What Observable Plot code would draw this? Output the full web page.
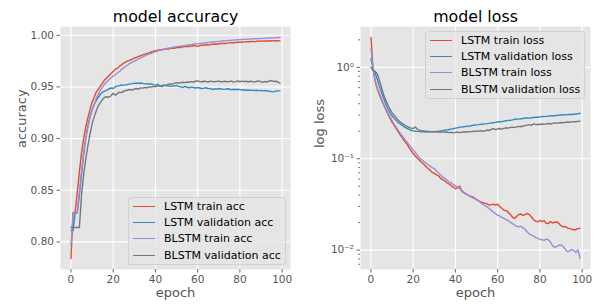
<!DOCTYPE html>
<html><head><meta charset="utf-8">
<script src="https://cdn.jsdelivr.net/npm/d3@7"></script>
<script src="https://cdn.jsdelivr.net/npm/@observablehq/plot@0.6"></script>
<style>
body{margin:0;background:#fff;font-family:"DejaVu Sans",sans-serif;}
#wrap{display:flex;width:600px;height:305px;}
.panel{position:relative;width:300px;height:305px;}
.panel svg{display:block;}
.legend{position:absolute;background:rgba(229,229,229,0.8);border:1px solid rgba(204,204,204,0.8);border-radius:3px;font-size:11px;color:#000;box-sizing:border-box;padding-top:0.5px;}
.legend .row{display:flex;align-items:center;height:16.2px;white-space:nowrap;}
.legend .sw{width:22px;height:0;border-top:1.5px solid;margin-left:4px;margin-right:9px;flex:none;}
</style></head>
<body><div id="wrap"><div class="panel" id="acc"></div><div class="panel" id="loss"></div></div>
<script>
// ---------- data ----------
const epochs = d3.range(100);
const xTicks = [0, 20, 40, 60, 80, 100];
const accTicks = [0.80, 0.85, 0.90, 0.95, 1.00];
const lossTicks = [0.01, 0.1, 1];

const accNames = ["LSTM train acc", "LSTM validation acc", "BLSTM train acc", "BLSTM validation acc"];
const lossNames = ["LSTM train loss", "LSTM validation loss", "BLSTM train loss", "BLSTM validation loss"];
const palette = ["#E24A33", "#348ABD", "#988ED5", "#777777"];

const lstmTrainAcc = [
0.784,0.828,0.829,0.848,0.868,0.886,0.900,0.911,0.920,0.928,
0.935,0.940,0.945,0.948,0.951,0.954,0.957,0.959,0.961,0.963,
0.965,0.967,0.968,0.970,0.9715,0.973,0.9742,0.9752,0.976,0.9768,
0.978,0.9785,0.9795,0.9802,0.981,0.9818,0.9825,0.983,0.9838,0.9845,
0.985,0.9855,0.986,0.9858,0.9865,0.9868,0.9866,0.9872,0.9876,0.9874,
0.988,0.9884,0.9882,0.9888,0.989,0.9893,0.9891,0.9896,0.9899,0.9897,
0.9893,0.990,0.9903,0.9905,0.9908,0.9906,0.991,0.9913,0.9915,0.9913,
0.9918,0.992,0.9922,0.992,0.9924,0.9926,0.9928,0.9927,0.993,0.9932,
0.9934,0.9933,0.9936,0.9938,0.9937,0.994,0.9941,0.9939,0.9942,0.9943,
0.9944,0.9943,0.9945,0.9946,0.9945,0.9947,0.9946,0.9948,0.9947,0.9946];
const lstmValAcc = [
0.811,0.811,0.828,0.828,0.845,0.865,0.885,0.900,0.912,0.921,
0.928,0.933,0.937,0.940,0.943,0.945,0.946,0.947,0.948,0.949,
0.9485,0.950,0.951,0.951,0.952,0.9515,0.952,0.9525,0.953,0.9532,
0.9535,0.9537,0.9535,0.9538,0.9535,0.953,0.9532,0.9528,0.953,0.9522,
0.9518,0.9525,0.9512,0.9502,0.9515,0.951,0.9512,0.9505,0.951,0.9508,
0.9515,0.9505,0.950,0.9495,0.9505,0.9497,0.9492,0.9498,0.9495,0.949,
0.9494,0.949,0.9485,0.9488,0.9492,0.9484,0.9486,0.9475,0.9482,0.9478,
0.9485,0.948,0.9476,0.9479,0.9483,0.948,0.9472,0.9478,0.9475,0.9477,
0.9474,0.947,0.9473,0.9468,0.947,0.9467,0.9469,0.9465,0.9468,0.9464,
0.9466,0.9462,0.9465,0.946,0.9458,0.9455,0.9452,0.946,0.9462,0.9462];
const blstmTrainAcc = [
0.797,0.828,0.828,0.829,0.849,0.869,0.886,0.900,0.911,0.920,
0.927,0.933,0.939,0.943,0.947,0.950,0.953,0.955,0.957,0.959,
0.9605,0.962,0.9635,0.965,0.967,0.9685,0.970,0.9715,0.9728,0.974,
0.975,0.976,0.9772,0.9782,0.979,0.980,0.981,0.9818,0.9826,0.9834,
0.984,0.9848,0.9855,0.986,0.9866,0.987,0.9875,0.9878,0.9882,0.9886,
0.989,0.9893,0.9896,0.990,0.9902,0.9905,0.9908,0.991,0.9913,0.9915,
0.9917,0.992,0.9922,0.9925,0.9927,0.993,0.9932,0.9935,0.9937,0.9939,
0.9941,0.9943,0.9945,0.9946,0.9948,0.995,0.9952,0.9953,0.9955,0.9956,
0.9958,0.9959,0.996,0.9961,0.9963,0.9964,0.9965,0.9966,0.9967,0.9968,
0.9969,0.997,0.9971,0.9972,0.9973,0.9974,0.9975,0.9976,0.9977,0.9978];
const blstmValAcc = [
0.814,0.814,0.814,0.814,0.814,0.845,0.865,0.880,0.893,0.904,
0.914,0.921,0.927,0.932,0.935,0.938,0.940,0.9405,0.940,0.9415,
0.944,0.942,0.9435,0.945,0.9445,0.946,0.9465,0.947,0.9475,0.947,
0.948,0.9485,0.948,0.949,0.9488,0.9495,0.9492,0.950,0.9498,0.9505,
0.9502,0.951,0.9508,0.9512,0.952,0.9515,0.9525,0.953,0.9528,0.9535,
0.9542,0.9538,0.954,0.9545,0.9542,0.9548,0.9545,0.9552,0.9548,0.9555,
0.9558,0.9553,0.955,0.9555,0.9552,0.9548,0.9556,0.9552,0.955,0.9554,
0.9556,0.955,0.9552,0.9555,0.9549,0.9553,0.9556,0.9547,0.9552,0.9558,
0.955,0.9556,0.9552,0.9555,0.9548,0.9556,0.955,0.9547,0.9555,0.9558,
0.955,0.9545,0.9553,0.9548,0.9558,0.9562,0.9553,0.9555,0.9548,0.9535];

const lstmTrainLoss = [
2.12,0.95,0.70,0.58,0.50,0.44,0.39,0.345,0.31,0.28,
0.25,0.232,0.212,0.195,0.18,0.167,0.155,0.145,0.133,0.123,
0.114,0.107,0.101,0.096,0.091,0.087,0.082,0.078,0.075,0.071,
0.069,0.067,0.065,0.061,0.059,0.057,0.0545,0.053,0.0505,0.049,
0.047,0.048,0.050,0.044,0.0425,0.041,0.040,0.039,0.0385,0.037,
0.036,0.0345,0.0337,0.033,0.0325,0.032,0.031,0.0315,0.0318,0.031,
0.0318,0.030,0.0285,0.0274,0.027,0.026,0.0245,0.023,0.0222,0.0235,
0.0245,0.0248,0.024,0.0245,0.0252,0.0245,0.023,0.0215,0.0208,0.0204,
0.0212,0.0205,0.021,0.0196,0.0195,0.0205,0.0198,0.0202,0.0204,0.0195,
0.0185,0.018,0.0182,0.0175,0.0172,0.017,0.0166,0.0168,0.0172,0.0173];
const lstmValLoss = [
1.25,0.95,0.86,0.74,0.62,0.53,0.46,0.40,0.355,0.32,
0.295,0.277,0.262,0.248,0.238,0.23,0.222,0.215,0.21,0.205,
0.202,0.20,0.199,0.198,0.197,0.197,0.196,0.197,0.197,0.198,
0.198,0.199,0.20,0.202,0.203,0.205,0.207,0.209,0.211,0.213,
0.216,0.218,0.222,0.222,0.224,0.226,0.227,0.228,0.232,0.234,
0.235,0.236,0.238,0.24,0.241,0.242,0.245,0.246,0.248,0.25,
0.252,0.254,0.255,0.258,0.26,0.263,0.264,0.266,0.27,0.272,
0.271,0.274,0.276,0.279,0.28,0.278,0.281,0.283,0.285,0.284,
0.287,0.29,0.289,0.291,0.293,0.294,0.296,0.295,0.298,0.299,
0.301,0.303,0.302,0.304,0.306,0.305,0.307,0.309,0.311,0.315];
const blstmTrainLoss = [
1.6,0.95,0.72,0.6,0.52,0.455,0.40,0.355,0.32,0.29,
0.262,0.24,0.22,0.203,0.188,0.175,0.163,0.153,0.142,0.133,
0.125,0.117,0.109,0.102,0.098,0.093,0.09,0.086,0.083,0.08,
0.078,0.074,0.07,0.066,0.063,0.061,0.058,0.056,0.054,0.052,
0.0505,0.049,0.047,0.045,0.043,0.0415,0.0399,0.0385,0.0375,0.0365,
0.0355,0.0345,0.033,0.0318,0.0305,0.0297,0.0285,0.0272,0.026,0.025,
0.0241,0.0235,0.0228,0.0222,0.0215,0.021,0.0202,0.0195,0.0188,0.0182,
0.018,0.0182,0.0175,0.0168,0.0158,0.015,0.0146,0.0142,0.0138,0.0134,
0.0131,0.013,0.0128,0.0132,0.013,0.0122,0.0112,0.0107,0.011,0.0113,
0.0114,0.011,0.0102,0.0096,0.0098,0.0101,0.01,0.0094,0.0101,0.0081];
const blstmValLoss = [
1.0,0.93,0.9,0.85,0.72,0.6,0.5,0.44,0.39,0.35,
0.32,0.3,0.28,0.263,0.25,0.242,0.234,0.226,0.22,0.216,
0.214,0.222,0.21,0.206,0.203,0.201,0.2,0.199,0.198,0.197,
0.198,0.196,0.197,0.195,0.198,0.194,0.196,0.193,0.195,0.192,
0.194,0.196,0.193,0.195,0.197,0.196,0.198,0.197,0.199,0.2,
0.199,0.201,0.203,0.2,0.202,0.206,0.204,0.21,0.213,0.208,
0.212,0.214,0.211,0.215,0.218,0.216,0.22,0.222,0.219,0.223,
0.226,0.224,0.228,0.23,0.233,0.236,0.232,0.241,0.236,0.238,
0.237,0.24,0.238,0.241,0.243,0.24,0.244,0.246,0.245,0.247,
0.249,0.248,0.25,0.252,0.251,0.253,0.255,0.254,0.256,0.258];

// ---------- build ----------
const accSeries = [lstmTrainAcc, lstmValAcc, blstmTrainAcc, blstmValAcc];
const lossSeries = [lstmTrainLoss, lstmValLoss, blstmTrainLoss, blstmValLoss];
const toRows = (arr) => arr.map((v, i) => ({epoch: epochs[i], value: v}));

const pad = ([a, b], f = 0.05) => { const d = (b - a) * f; return [a - d, b + d]; };
const xDomain = pad(d3.extent(epochs));
const accDomain = pad(d3.extent(accSeries.flat()));
const lg = pad(d3.extent(lossSeries.flat(), v => Math.log10(v)));
const lossDomain = [10 ** lg[0], 10 ** lg[1]];

const supMap = {"-": "\u207B", "0": "\u2070", "1": "\u00B9", "2": "\u00B2", "3": "\u00B3"};
const sup = (d) => "10" + String(Math.round(Math.log10(d))).split("").map(c => supMap[c]).join("");

const minorTicks = [];
for (let k = -3; k <= 0; k++) for (let m = 2; m <= 9; m++) {
  const v = m * 10 ** k;
  if (v >= lossDomain[0] && v <= lossDomain[1]) minorTicks.push(v);
}

const common = {
  width: 300, height: 305,
  marginLeft: 60, marginRight: 10, marginTop: 26, marginBottom: 36,
  style: {fontFamily: '"DejaVu Sans", sans-serif', fontSize: "10.5px", color: "#555", background: "transparent", overflow: "visible"}
};
const axisOpts = {tickSize: 3.5, tickPadding: 3, color: "#555", strokeWidth: 0.9, label: null};

function panel(title, ylabel, series, names, yScale, yTickMarks, yLabelDx) {
  return Plot.plot({
    ...common,
    x: {domain: xDomain, label: null},
    y: {...yScale, label: null},
    marks: [
      Plot.frame({fill: "#E5E5E5", stroke: "none"}),
      Plot.gridX(xTicks, {stroke: "#fff", strokeOpacity: 1, strokeWidth: 1.1}),
      Plot.gridY(yScale.gridTicks, {stroke: "#fff", strokeOpacity: 1, strokeWidth: 1.1}),
      Plot.axisX(xTicks, axisOpts),
      ...yTickMarks,
      ...series.map((s, i) => Plot.line(toRows(s), {x: "epoch", y: "value", stroke: palette[i], strokeWidth: 1.4})),
      Plot.text([title], {frameAnchor: "top", lineAnchor: "bottom", dy: -5, fontSize: 15.8, fill: "#000"}),
      Plot.text(["epoch"], {frameAnchor: "bottom", lineAnchor: "bottom", dy: 27, fontSize: 13, fill: "#555"}),
      Plot.text([ylabel], {frameAnchor: "left", rotate: -90, lineAnchor: "bottom", dx: yLabelDx, fontSize: 13, fill: "#555"})
    ]
  });
}

const accPlot = panel("model accuracy", "accuracy", accSeries, accNames,
  {domain: accDomain, gridTicks: accTicks},
  [Plot.axisY(accTicks, {...axisOpts, tickFormat: d3.format(".2f")})], -35);

const lossPlot = panel("model loss", "log loss", lossSeries, lossNames,
  {type: "log", domain: lossDomain, gridTicks: lossTicks},
  [Plot.axisY(lossTicks, {...axisOpts, tickFormat: sup}),
   Plot.axisY(minorTicks, {tickSize: 2, stroke: "#555", strokeWidth: 0.8, fill: "none", label: null})], -37);

document.getElementById("acc").append(accPlot);
document.getElementById("loss").append(lossPlot);

function legend(parentId, names, box) {
  const el = document.createElement("div");
  el.className = "legend";
  Object.assign(el.style, box);
  names.forEach((n, i) => {
    const row = document.createElement("div");
    row.className = "row";
    const sw = document.createElement("span");
    sw.className = "sw";
    sw.style.borderTopColor = palette[i];
    const tx = document.createElement("span");
    tx.textContent = n;
    row.append(sw, tx);
    el.append(row);
  });
  document.getElementById(parentId).append(el);
}
legend("acc", accNames, {left: "128px", top: "197px", width: "158px", height: "68px"});
legend("loss", lossNames, {left: "125px", top: "31px", width: "160px", height: "68px"});
</script>
</body></html>
